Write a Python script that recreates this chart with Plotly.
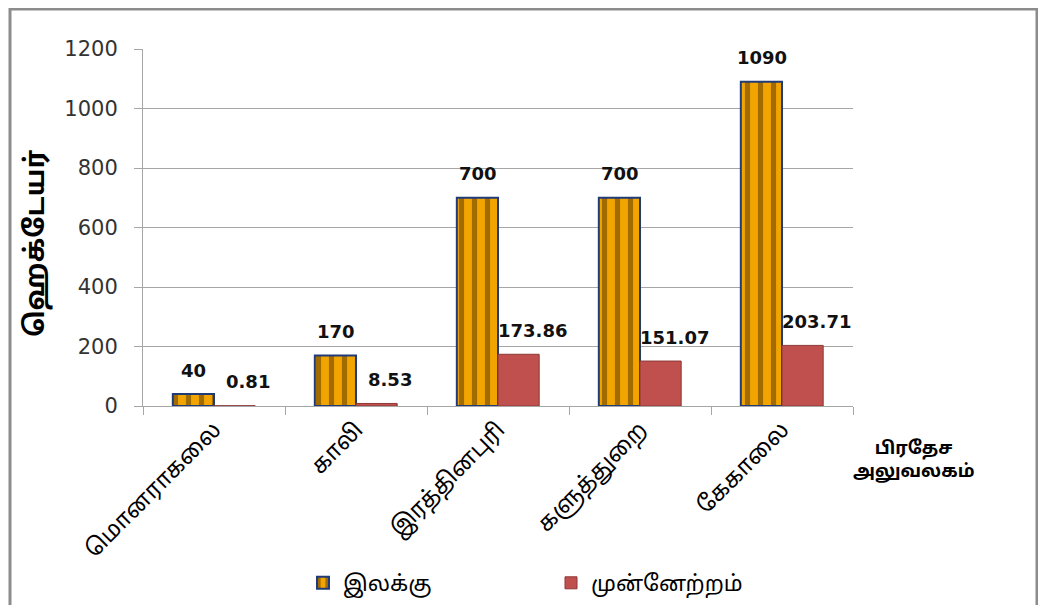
import plotly.graph_objects as go

categories = ["மொனராகலை", "காலி", "இரத்தினபுரி", "களுத்துறை", "கேகாலை"]
target = [40, 170, 700, 700, 1090]
progress = [0.81, 8.53, 173.86, 151.07, 203.71]
target_labels = ["40", "170", "700", "700", "1090"]
progress_labels = ["0.81", "8.53", "173.86", "151.07", "203.71"]
series_names = ["இலக்கு", "முன்னேற்றம்"]
y_ticks = [0, 200, 400, 600, 800, 1000, 1200]
y_title = "ஹெக்டேயர்"
x_title = "பிரதேச<br>அலுவலகம்"

# page body has an 8px margin; positions below are in window pixels
OFF = 8
W, H = 1046 - OFF, 605 - OFF
L, T = 143 - OFF, 49 - OFF
R = W - (853 - OFF)
B = H - (406 - OFF)
pw, ph = W - L - R, H - T - B

def px(x):
    return (x - OFF - L) / pw

def py(y):
    return (H - B - (y - OFF)) / ph

tamil_font = "Noto Sans Tamil, Latha, Noto Sans, DejaVu Sans, sans-serif"

fig = go.Figure()
fig.add_trace(go.Bar(
    x=categories, y=target, name=series_names[0],
    marker=dict(color="#F2A400", line=dict(color="#1F3C78", width=2),
                pattern=dict(shape="|", size=13, solidity=0.4, fgcolor="#8E5C00", fgopacity=0.8)),
))
fig.add_trace(go.Bar(
    x=categories, y=progress, name=series_names[1],
    marker=dict(color="#C0504D", line=dict(color="#8C3836", width=1)),
))

ann = []
for c, v, t in zip(categories, target, target_labels):
    ann.append(dict(x=c, y=v, xref="x", yref="y", text="<b>" + t + "</b>", showarrow=False,
                    xshift=-20.5, yshift=24, xanchor="center", yanchor="middle",
                    font=dict(family="DejaVu Sans", size=18, color="#111")))
for c, v, t in zip(categories, progress, progress_labels):
    ann.append(dict(x=c, y=v, xref="x", yref="y", text="<b>" + t + "</b>", showarrow=False,
                    xshift=34, yshift=24, xanchor="center", yanchor="middle",
                    font=dict(family="DejaVu Sans", size=18, color="#111")))

ann.append(dict(x=px(37), y=py(243), xref="paper", yref="paper", text="<b>" + y_title + "</b>",
                textangle=-90, showarrow=False, xanchor="center", yanchor="middle",
                font=dict(family=tamil_font, size=27, color="#000")))
ann.append(dict(x=px(914), y=py(461), xref="paper", yref="paper", text="<b>" + x_title + "</b>",
                showarrow=False, xanchor="center", yanchor="middle",
                font=dict(family=tamil_font, size=18, color="#000")))
fig.update_layout(annotations=ann)

fig.add_shape(type="rect", xref="paper", yref="paper",
              x0=px(10), x1=px(1037), y0=py(640), y1=py(9),
              line=dict(color="#8C8C8C", width=3), fillcolor="rgba(0,0,0,0)", layer="below")

fig.update_layout(
    width=W, height=H,
    margin=dict(l=L, r=R, t=T, b=B, autoexpand=False),
    paper_bgcolor="white", plot_bgcolor="white",
    barmode="group", bargap=0.42, bargroupgap=0,
    showlegend=True,
    legend=dict(orientation="h", x=px(303), y=py(583), xanchor="left", yanchor="middle",
                font=dict(family=tamil_font, size=22, color="#000"),
                entrywidth=203, entrywidthmode="pixels", itemwidth=30),
    font=dict(family="DejaVu Sans, sans-serif", color="#222"),
)
fig.update_yaxes(range=[0, 1200], tickvals=y_ticks, showgrid=True, gridcolor="#A6A6A6", gridwidth=1,
                 showline=True, linecolor="#A6A6A6", linewidth=1, ticks="outside", ticklen=8,
                 tickcolor="#A6A6A6", tickfont=dict(family="DejaVu Sans", size=21, color="#333"),
                 ticklabelstandoff=12, zeroline=False)
fig.update_xaxes(showline=True, linecolor="#A6A6A6", linewidth=1, ticks="outside", ticklen=8,
                 tickcolor="#A6A6A6", tickson="boundaries", tickangle=-45,
                 tickfont=dict(family=tamil_font, size=23, color="#000"))

fig.write_html("out.html")
